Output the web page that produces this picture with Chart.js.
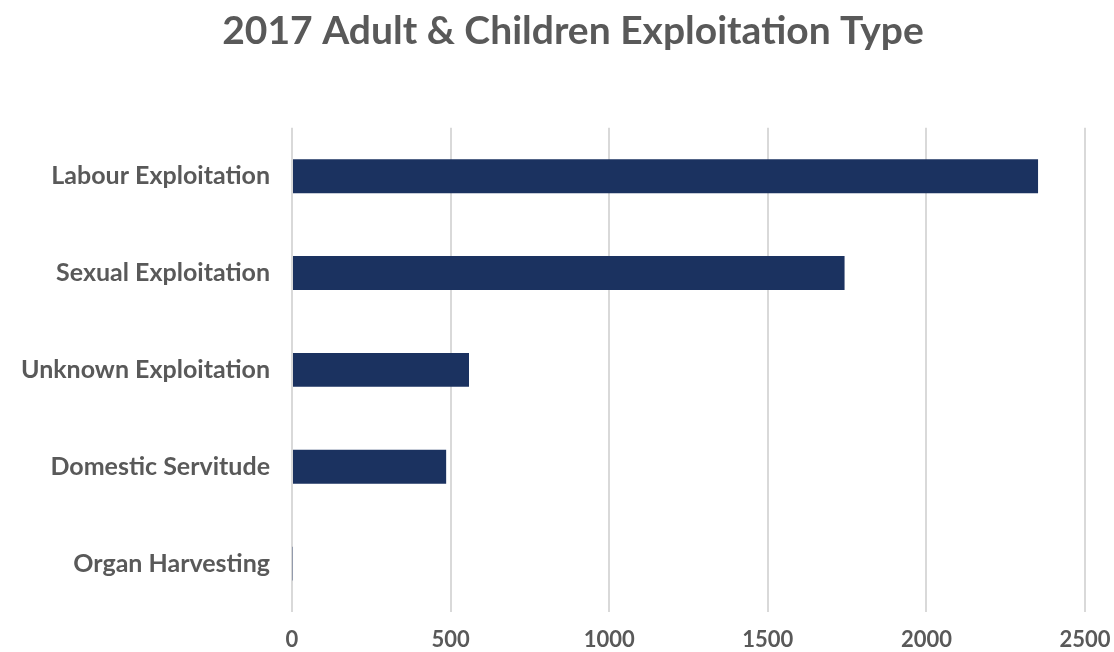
<!DOCTYPE html>
<html>
<head>
<meta charset="utf-8">
<script src="https://cdn.jsdelivr.net/npm/chart.js@4"></script>
<style>
  html, body { margin: 0; padding: 0; background: #fff; }
  #wrap { width: 1114px; height: 652px; }
</style>
</head>
<body>
<div id="wrap"><canvas id="exploitChart" width="1114" height="652"></canvas></div>
<script>
// Data
const categories = [
  "Labour Exploitation",
  "Sexual Exploitation",
  "Unknown Exploitation",
  "Domestic Servitude",
  "Organ Harvesting"
];
const counts = [2352, 1742, 558, 486, 2];
const xTicks = [0, 500, 1000, 1500, 2000, 2500];

const textColor = "#595959";
const fontFamily = "Lato, 'Open Sans', sans-serif";

// title in the original sits a bit right of the canvas centre
const shiftTitle = {
  id: "shiftTitle",
  afterLayout(chart) {
    if (chart.titleBlock) {
      chart.titleBlock.left = 40;
      chart.titleBlock.right = 1106;
    }
  }
};

const ctx = document.getElementById("exploitChart").getContext("2d");
const chart = new Chart(ctx, {
  type: "bar",
  data: {
    labels: categories,
    datasets: [{
      label: "Count",
      data: counts,
      backgroundColor: "#1b3260",
      borderWidth: 0,
      categoryPercentage: 1,
      barPercentage: 0.35
    }]
  },
  options: {
    indexAxis: "y",
    responsive: false,
    animation: false,
    layout: { padding: { left: 0, right: 29, top: 0, bottom: 0 } },
    plugins: {
      legend: { display: false },
      tooltip: { enabled: false },
      title: {
        display: true,
        text: "2017 Adult & Children Exploitation Type",
        color: textColor,
        font: { family: fontFamily, size: 39, weight: "bold", lineHeight: 1.2 },
        padding: { top: 8, bottom: 73 }
      }
    },
    scales: {
      x: {
        min: 0,
        max: 2500,
        afterBuildTicks: axis => { axis.ticks = xTicks.map(v => ({ value: v })); },
        grid: { color: "#d9d9d9", lineWidth: 2, drawTicks: false },
        border: { display: false },
        ticks: {
          color: textColor,
          padding: 15,
          callback: v => String(v),
          font: { family: fontFamily, size: 22, weight: "bold", lineHeight: 1.2 }
        },
        afterFit: axis => {
          axis.height = 40;
          axis.paddingLeft = 0;
          axis.paddingRight = 0;
        }
      },
      y: {
        grid: { display: false, drawTicks: false },
        border: { display: false },
        ticks: {
          color: textColor,
          padding: 22,
          font: { family: fontFamily, size: 25, weight: "bold" }
        },
        afterFit: axis => { axis.width = 292; }
      }
    }
  },
  plugins: [shiftTitle]
});
</script>
</body>
</html>
